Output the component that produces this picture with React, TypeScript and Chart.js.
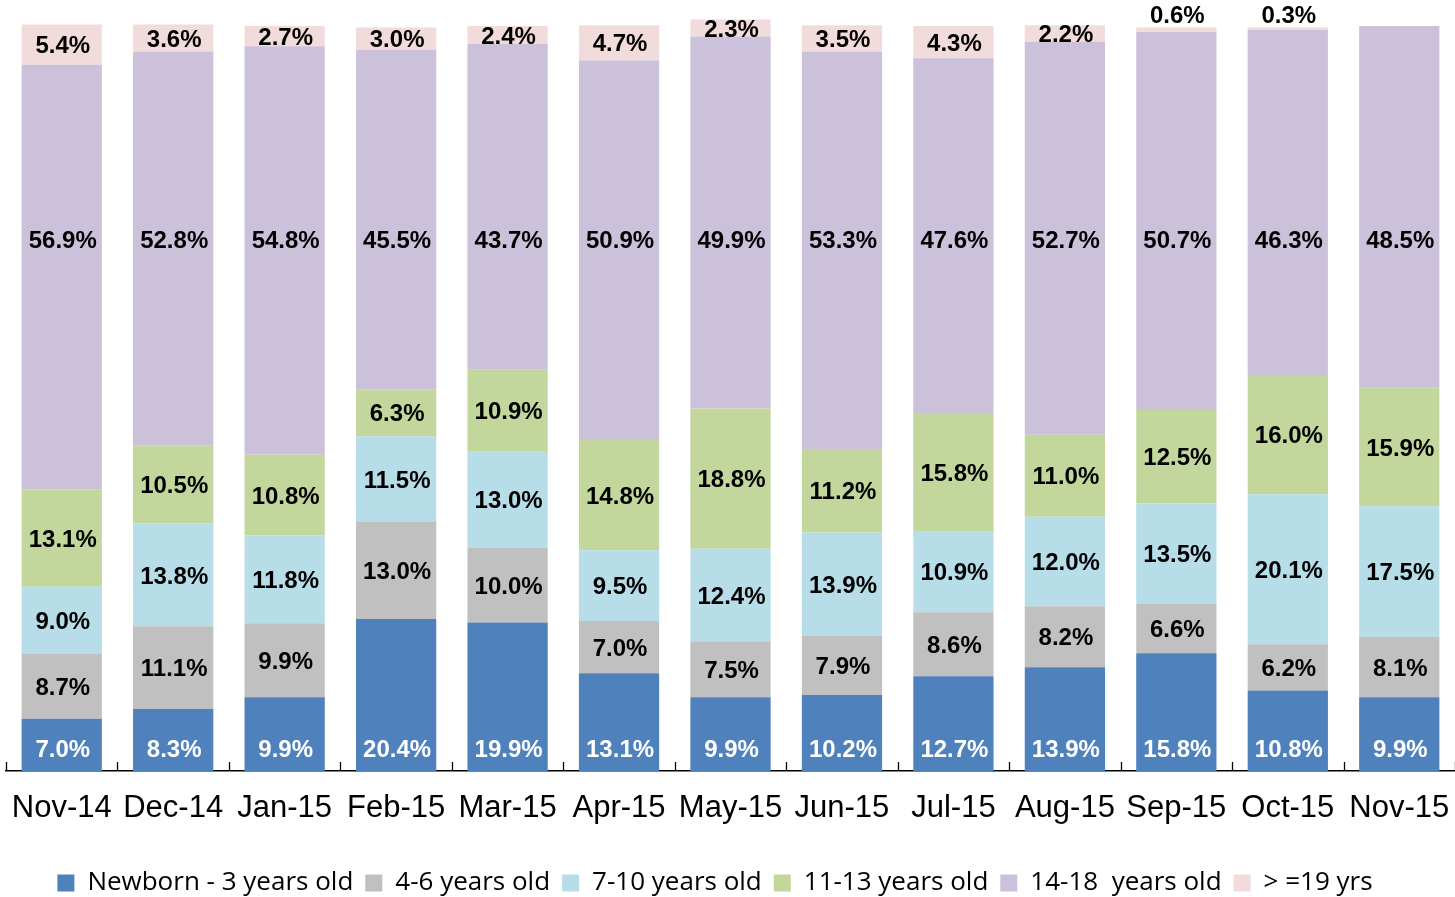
import React, { useEffect, useRef } from "react";
import { Chart, registerables } from "chart.js";

Chart.register(...registerables);

const categories = ["Nov-14", "Dec-14", "Jan-15", "Feb-15", "Mar-15", "Apr-15", "May-15", "Jun-15", "Jul-15", "Aug-15", "Sep-15", "Oct-15", "Nov-15"];
const newborn3 = [7.0, 8.3, 9.9, 20.4, 19.9, 13.1, 9.9, 10.2, 12.7, 13.9, 15.8, 10.8, 9.9];
const years4to6 = [8.7, 11.1, 9.9, 13.0, 10.0, 7.0, 7.5, 7.9, 8.6, 8.2, 6.6, 6.2, 8.1];
const years7to10 = [9.0, 13.8, 11.8, 11.5, 13.0, 9.5, 12.4, 13.9, 10.9, 12.0, 13.5, 20.1, 17.5];
const years11to13 = [13.1, 10.5, 10.8, 6.3, 10.9, 14.8, 18.8, 11.2, 15.8, 11.0, 12.5, 16.0, 15.9];
const years14to18 = [56.9, 52.8, 54.8, 45.5, 43.7, 50.9, 49.9, 53.3, 47.6, 52.7, 50.7, 46.3, 48.5];
const years19plus = [5.4, 3.6, 2.7, 3.0, 2.4, 4.7, 2.3, 3.5, 4.3, 2.2, 0.6, 0.3, null];

const seriesNames = ["Newborn - 3 years old", "4-6 years old", "7-10 years old", "11-13 years old", "14-18  years old", "> =19 yrs"];
const seriesColors = ["#4F81BD", "#C0C0C0", "#B7DDE8", "#C3D69B", "#CCC1DA", "#F2DCDB"];
const seriesValues = [newborn3, years4to6, years7to10, years11to13, years14to18, years19plus];

// level (in axis units) where the 14-18 labels were placed in the original
const LABEL_LEVEL_14_18 = 71;

const labelPlugin = {
  id: "segLabels",
  afterLayout(chart: any) {
    // the original legend sits slightly left of centre
    if (chart.legend) {
      chart.legend.left -= 16;
      chart.legend.right -= 16;
    }
  },
  afterDatasetsDraw(chart: any) {
    const ctx = chart.ctx;
    const ys = chart.scales.y;
    const xs = chart.scales.x;
    ctx.save();
    ctx.font = "bold 24px 'Liberation Sans', Arial, sans-serif";
    ctx.textAlign = "center";
    ctx.textBaseline = "middle";
    chart.data.datasets.forEach((ds: any, di: number) => {
      const meta = chart.getDatasetMeta(di);
      meta.data.forEach((bar: any, i: number) => {
        const v = ds.data[i];
        if (v == null) return;
        const p = bar.getProps(["x", "y", "base"], true);
        const top = Math.min(p.y, p.base);
        const base = Math.max(p.y, p.base);
        let ty: number;
        if (di === 0) ty = base - 21;
        else if (di === 4) ty = ys.getPixelForValue(LABEL_LEVEL_14_18);
        else if (base - top < 10) ty = top - 11;
        else ty = (top + base) / 2 + 2;
        ctx.fillStyle = di === 0 ? "#ffffff" : "#000000";
        ctx.fillText(v.toFixed(1) + "%", p.x + 1, ty);
      });
    });
    // inward tick marks at category boundaries
    ctx.strokeStyle = "#000000";
    ctx.lineWidth = 1.3;
    const n = categories.length;
    for (let i = 0; i <= n; i++) {
      const px = Math.round(xs.left + ((xs.right - xs.left) * i) / n) + 0.5;
      ctx.beginPath();
      ctx.moveTo(px, xs.top);
      ctx.lineTo(px, xs.top - 9);
      ctx.stroke();
    }
    ctx.restore();
  },
};

export default function App() {
  const ref = useRef<HTMLCanvasElement>(null);
  useEffect(() => {
    document.body.style.margin = "0";
    const chart = new Chart(ref.current!, {
      type: "bar",
      data: {
        labels: categories,
        datasets: seriesValues.map((vals, i) => ({
          label: seriesNames[i],
          data: vals,
          backgroundColor: seriesColors[i],
          borderWidth: 0,
          barPercentage: 0.72,
          categoryPercentage: 1,
        })),
      },
      options: {
        responsive: false,
        animation: false,
        layout: { padding: { left: 6, right: -1, top: 0, bottom: -9 } },
        scales: {
          x: {
            stacked: true,
            offset: true,
            afterFit: (scale: any) => {
              scale.height = 87;
            },
            grid: {
              display: true,
              drawOnChartArea: false,
              drawTicks: true,
              tickLength: 19,
              tickColor: "rgba(0,0,0,0)",
              offset: true,
            },
            border: { display: true, color: "#000000", width: 1.5 },
            ticks: {
              color: "#000000",
              padding: 0,
              maxRotation: 0,
              autoSkip: false,
              font: { family: "'Liberation Sans', Arial, sans-serif", size: 31 },
            },
          },
          y: {
            stacked: true,
            display: false,
            min: 0,
            max: 103.4,
          },
        },
        plugins: {
          legend: {
            position: "bottom",
            labels: {
              boxWidth: 17,
              boxHeight: 17,
              padding: 12,
              color: "#000000",
              font: { family: "'Open Sans', sans-serif", size: 26 },
            },
          },
          tooltip: { enabled: false },
        },
      },
      plugins: [labelPlugin],
    });
    return () => chart.destroy();
  }, []);
  return (
    <div style={{ width: 1455, height: 897 }}>
      <canvas ref={ref} width={1455} height={897} style={{ width: 1455, height: 897, display: "block" }} />
    </div>
  );
}
